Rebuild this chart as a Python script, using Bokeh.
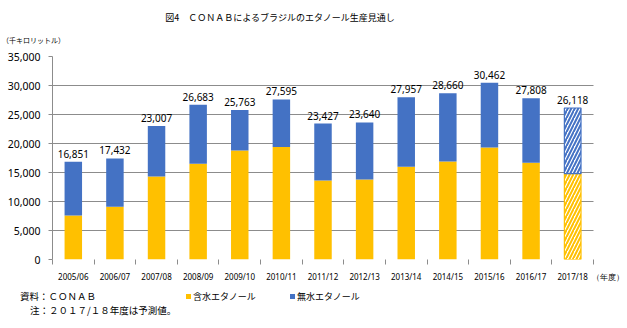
from bokeh.plotting import figure
from bokeh.layouts import column
from bokeh.models import (ColumnDataSource, Range1d, FixedTicker, NumeralTickFormatter, Div)
from bokeh.core.properties import value
from bokeh.embed import file_html
from bokeh.resources import INLINE

# ---- data ----
years = ["2005/06", "2006/07", "2007/08", "2008/09", "2009/10", "2010/11", "2011/12",
         "2012/13", "2013/14", "2014/15", "2015/16", "2016/17", "2017/18"]
totals = [16851, 17432, 23007, 26683, 25763, 27595, 23427, 23640, 27957, 28660, 30462, 27808, 26118]
hydrous = [7600, 9100, 14300, 16500, 18800, 19400, 13600, 13800, 16000, 16900, 19300, 16700, 14800]
anhydrous = [t - h for t, h in zip(totals, hydrous)]
forecast_from = 12  # 2017/18 is a forecast
y_ticks = [0, 5000, 10000, 15000, 20000, 25000, 30000, 35000]

title_text = "図4　ＣＯＮＡＢによるブラジルのエタノール生産見通し"
unit_text = "（千キロリットル）"
year_unit = "（年度）"
source_text = "資料：ＣＯＮＡＢ"
note_text = "注：２０１７/１８年度は予測値。"
series_names = ["含水エタノール", "無水エタノール"]

YELLOW = "#FFC000"
BLUE = "#4472C4"
GRID = "#8C8C8C"
JP = "Noto Sans CJK JP"
NUM = "Noto Sans"

n = len(years)
xs = [i + 0.5 for i in range(n)]
X_END = n * 575 / 541      # frame runs to the right edge; categories fill 541 px
UNIT_X = n + 0.35

act = ColumnDataSource(dict(x=xs[:forecast_from], h=hydrous[:forecast_from],
                            t=totals[:forecast_from]))
fc = ColumnDataSource(dict(x=xs[forecast_from:], h=hydrous[forecast_from:],
                           t=totals[forecast_from:]))
lbl = ColumnDataSource(dict(x=xs, t=totals, s=[f"{v:,}" for v in totals]))


def span(left, top, text, size, extra=""):
    return (f'<span style="position:absolute;left:{left}px;top:{top}px;font-size:{size}px;'
            f'line-height:1;white-space:nowrap;{extra}">{text}</span>')


def box(left, top, color):
    return (f'<span style="position:absolute;left:{left}px;top:{top}px;width:5px;height:5px;'
            f'background:{color};"></span>')


def text_div(h, inner):
    html = (f'<div style="position:relative;width:627px;height:{h}px;margin:0;padding:0;'
            f"font-family:'{JP}';color:#000000;\">{inner}</div>")
    return Div(text=html, width=627, height=h, margin=0)


# ---- top texts ----
top = text_div(48, span(0, 12.5, title_text, 9, "width:560px;text-align:center;")
               + span(2, 36.5, unit_text, 7))

# ---- main chart ----
p = figure(width=627, height=240, output_backend="svg", toolbar_location=None,
           x_range=Range1d(0, X_END), y_range=Range1d(0, 35000),
           min_border_left=52, min_border_right=0, min_border_top=8, min_border_bottom=29)
p.outline_line_color = None
p.background_fill_color = "white"
p.border_fill_color = "white"

W = 0.42
p.vbar(x="x", top="h", bottom=0, width=W, source=act, fill_color=YELLOW, line_color=None)
p.vbar(x="x", top="t", bottom="h", width=W, source=act, fill_color=BLUE, line_color=None)
p.vbar(x="x", top="h", bottom=0, width=W - 0.02, source=fc, fill_color="white", line_color=YELLOW,
       line_width=1.2, hatch_pattern="/", hatch_color=YELLOW, hatch_weight=2, hatch_scale=7)
p.vbar(x="x", top="t", bottom="h", width=W - 0.02, source=fc, fill_color="white", line_color=BLUE,
       line_width=1.2, hatch_pattern="/", hatch_color=BLUE, hatch_weight=2, hatch_scale=7)

p.text(x="x", y="t", text="s", source=lbl, text_align="center", text_baseline="bottom",
       y_offset=-4, text_font=value(NUM), text_font_size="10px", text_color="#000000")

p.yaxis.ticker = FixedTicker(ticks=y_ticks)
p.yaxis.formatter = NumeralTickFormatter(format="0,0")
p.yaxis.axis_line_color = GRID
p.yaxis.major_tick_line_color = GRID
p.yaxis.major_tick_in = 0
p.yaxis.major_tick_out = 4
p.yaxis.minor_tick_line_color = None
p.yaxis.major_label_text_font = NUM
p.yaxis.major_label_text_font_size = "10.5px"
p.yaxis.major_label_text_color = "#000000"
p.yaxis.major_label_standoff = 8

p.xaxis.ticker = FixedTicker(ticks=xs + [UNIT_X], minor_ticks=list(range(n + 1)))
overrides = {x: y for x, y in zip(xs, years)}
overrides[UNIT_X] = year_unit
p.xaxis.major_label_overrides = overrides
p.xaxis.axis_line_color = None
p.xaxis.major_tick_line_color = None
p.xaxis.major_tick_in = 0
p.xaxis.major_tick_out = 0
p.xaxis.minor_tick_line_color = GRID
p.xaxis.minor_tick_in = 0
p.xaxis.minor_tick_out = 5
p.xaxis.major_label_text_font = NUM
p.xaxis.major_label_text_font_size = "8px"
p.xaxis.major_label_text_color = "#000000"
p.xaxis.major_label_standoff = 6

p.xgrid.grid_line_color = None
p.ygrid.grid_line_color = GRID
p.ygrid.grid_line_width = 1
p.ygrid.ticker = FixedTicker(ticks=y_ticks)
try:
    p.ygrid.cross_bounds = (0, n)
except AttributeError:
    p.ygrid.grid_line_color = None
    p.segment(x0=[0] * len(y_ticks), x1=[n] * len(y_ticks), y0=y_ticks, y1=y_ticks,
              line_color=GRID, line_width=1, level="underlay")

# ---- bottom texts + legend ----
bot = text_div(40, span(20, 4.25, source_text, 9.5)
               + span(30, 18.25, note_text, 9.5)
               + box(186, 5.5, YELLOW) + span(193, 3.5, series_names[0], 9)
               + box(290, 5.5, BLUE) + span(297, 3.5, series_names[1], 9))

layout = column(top, p, bot, spacing=0)
open("out.html", "w").write(file_html(layout, INLINE))
